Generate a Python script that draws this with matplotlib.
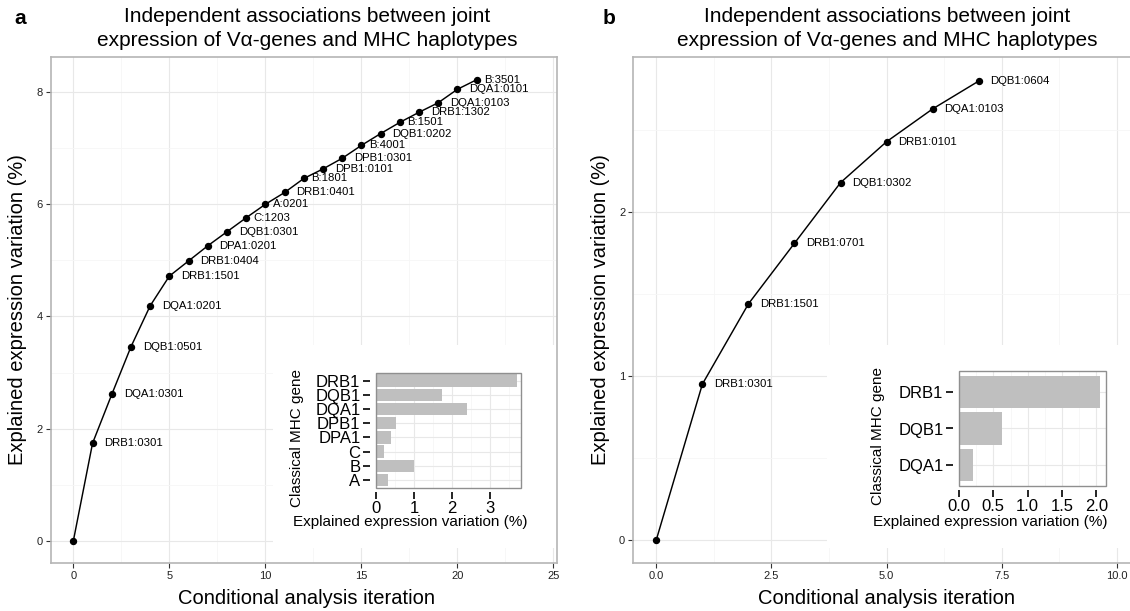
import matplotlib
matplotlib.use("Agg")
import matplotlib.pyplot as plt
from matplotlib.patches import Rectangle
from matplotlib.ticker import MultipleLocator, FixedLocator

plt.rcParams['font.family'] = ['Liberation Sans', 'DejaVu Sans']

# ---- data: panel a (conditional analysis, all classical MHC genes) ----
a_iteration = [0, 1, 2, 3, 4, 5, 6, 7, 8, 9, 10, 11, 12, 13, 14, 15, 16, 17, 18, 19, 20, 21]
a_explained = [0.00, 1.74, 2.61, 3.46, 4.19, 4.72, 4.99, 5.26, 5.51, 5.76, 6.00,
               6.21, 6.46, 6.63, 6.82, 7.05, 7.26, 7.46, 7.64, 7.81, 8.05, 8.22]
a_alleles = ["", "DRB1:0301", "DQA1:0301", "DQB1:0501", "DQA1:0201", "DRB1:1501",
             "DRB1:0404", "DPA1:0201", "DQB1:0301", "C:1203", "A:0201", "DRB1:0401",
             "B:1801", "DPB1:0101", "DPB1:0301", "B:4001", "DQB1:0202", "B:1501",
             "DRB1:1302", "DQA1:0103", "DQA1:0101", "B:3501"]
a_genes = ["DRB1", "DQB1", "DQA1", "DPB1", "DPA1", "C", "B", "A"]
a_gene_var = [3.71, 1.73, 2.41, 0.52, 0.39, 0.22, 1.00, 0.31]
a_xticks = [0, 5, 10, 15, 20, 25]
a_yticks = [0, 2, 4, 6, 8]
a_inset_ticks = [0, 1, 2, 3]

# ---- data: panel b (class II genes only) ----
b_iteration = [0, 1, 2, 3, 4, 5, 6, 7]
b_explained = [0.00, 0.95, 1.44, 1.81, 2.18, 2.43, 2.63, 2.80]
b_alleles = ["", "DRB1:0301", "DRB1:1501", "DRB1:0701", "DQB1:0302",
             "DRB1:0101", "DQA1:0103", "DQB1:0604"]
b_genes = ["DRB1", "DQB1", "DQA1"]
b_gene_var = [2.05, 0.62, 0.21]
b_xticks = [0.0, 2.5, 5.0, 7.5, 10.0]
b_yticks = [0, 1, 2]
b_inset_ticks = [0.0, 0.5, 1.0, 1.5, 2.0]

W, H = 1130, 611
fig = plt.figure(figsize=(W / 100, H / 100), dpi=100)


def box(l, t, r, b):
    return [l / W, 1 - b / H, (r - l) / W, (b - t) / H]


def ftext(x, y, s, **kw):
    return fig.text(x / W, 1 - y / H, s, **kw)


MAJOR = '#e8e8e8'
MINOR = '#f6f6f6'


def main_panel(rect, x, y, labels, xlim, ylim, xticks, yticks, xminor, yminor, xfmt):
    ax = fig.add_axes(rect)
    ax.set_xlim(*xlim)
    ax.set_ylim(*ylim)
    ax.xaxis.set_major_locator(FixedLocator(xticks))
    ax.yaxis.set_major_locator(FixedLocator(yticks))
    ax.xaxis.set_minor_locator(MultipleLocator(xminor))
    ax.yaxis.set_minor_locator(MultipleLocator(yminor))
    ax.set_xticklabels([xfmt(v) for v in xticks])
    ax.set_yticklabels([str(v) for v in yticks])
    ax.set_axisbelow(True)
    ax.grid(which='major', color=MAJOR, lw=0.8)
    ax.grid(which='minor', color=MINOR, lw=0.6)
    ax.tick_params(which='major', length=3.8, width=0.8, color='#333333',
                   labelsize=8, labelcolor='#222222', pad=2)
    ax.tick_params(which='minor', length=0)
    for sp in ax.spines.values():
        sp.set_color('#b5b5b5')
        sp.set_linewidth(1.2)
    ax.plot(x, y, color='black', lw=1.05, marker='o', ms=4.3, zorder=4, clip_on=False)
    anns = []
    for xi, yi, lab in zip(x, y, labels):
        if lab:
            anns.append(ax.annotate(lab, (xi, yi), xytext=(0, 0), textcoords='offset pixels',
                                    ha='left', va='center', fontsize=8.2, zorder=5))
    return ax, anns


def inset_panel(rect, genes, vals, xlim, ylim, ticks, minor, xfmt):
    ax = fig.add_axes(rect)
    pos = list(range(len(genes)))[::-1]
    ax.set_xlim(*xlim)
    ax.set_ylim(*ylim)
    ax.set_axisbelow(True)
    ax.xaxis.set_major_locator(FixedLocator(ticks))
    ax.xaxis.set_minor_locator(MultipleLocator(minor))
    ax.set_xticklabels([xfmt(v) for v in ticks])
    ax.set_yticks(pos)
    ax.set_yticklabels(genes)
    ax.grid(which='major', color=MAJOR, lw=0.8)
    ax.grid(which='minor', axis='x', color=MINOR, lw=0.6)
    ax.barh(pos, vals, height=0.88, color='#bfbfbf', edgecolor='none', zorder=2)
    ax.spines['left'].set_position(('outward', 4.5))
    ax.spines['bottom'].set_position(('outward', 3))
    for sp in ax.spines.values():
        sp.set_visible(False)
    ax.add_patch(Rectangle((0, 0), 1, 1, transform=ax.transAxes, fill=False,
                           edgecolor='#8f8f8f', lw=1.0, clip_on=False, zorder=5))
    ax.tick_params(which='major', length=5.2, width=1.2, color='black',
                   labelsize=12, labelcolor='black', pad=1.5)
    ax.tick_params(which='minor', length=0)
    return ax


# ---- panel a ----
axa, anns_a = main_panel(box(50.7, 57.3, 557.3, 562.7), a_iteration, a_explained, a_alleles,
                         (-1.18, 25.2), (-0.39, 8.62), a_xticks, a_yticks, 2.5, 1,
                         lambda v: str(v))
axa.add_patch(Rectangle((273 / W, 1 - 548 / H), (557 - 273) / W, (548 - 345) / H,
                        transform=fig.transFigure, facecolor='white', edgecolor='none',
                        zorder=0.8))
inset_panel(box(376, 373, 520.7, 487.7), a_genes, a_gene_var, (0, 3.82), (-0.54, 7.54),
            a_inset_ticks, 0.5, lambda v: str(v))

# ---- panel b ----
axb, anns_b = main_panel(box(633.3, 57.3, 1139.9, 562.7), b_iteration, b_explained, b_alleles,
                         (-0.5, 10.5), (-0.14, 2.945), b_xticks, b_yticks, 1.25, 0.5,
                         lambda v: f"{v:.1f}")
axb.add_patch(Rectangle((827 / W, 1 - 548 / H), (1140 - 827) / W, (548 - 345) / H,
                        transform=fig.transFigure, facecolor='white', edgecolor='none',
                        zorder=0.8))
inset_panel(box(959, 371, 1106, 486), b_genes, b_gene_var, (0, 2.14), (-0.58, 2.58),
            b_inset_ticks, 0.25, lambda v: f"{v:.1f}")

# ---- text ----
for cx in (307, 887):
    ftext(cx, 16, "Independent associations between joint", ha='center', va='center',
          fontsize=15)
    ftext(cx, 40, "expression of V\u03b1-genes and MHC haplotypes", ha='center', va='center',
          fontsize=15)
ftext(20, 18, 'a', ha='center', va='center', fontsize=15, fontweight='bold')
ftext(609, 18, 'b', ha='center', va='center', fontsize=15, fontweight='bold')

for cx, yl in ((306, 18), (887, 601)):
    ftext(cx, 598, "Conditional analysis iteration", ha='center', va='center', fontsize=14.5)
    ftext(yl, 310, "Explained expression variation (%)", ha='center', va='center',
          rotation=90, fontsize=14.5)

for (xc, yc), (yx, yy) in (((410, 522), (297, 438)), ((990, 522), (878, 436))):
    ftext(xc, yc, "Explained expression variation (%)", ha='center', va='center', fontsize=11)
    ftext(yx, yy, "Classical MHC gene", ha='center', va='center', rotation=90, fontsize=11)

# shift each allele label right by a fifth of its own width
fig.canvas.draw()
renderer = fig.canvas.get_renderer()
for t in anns_a + anns_b:
    w = t.get_window_extent(renderer).width
    t.xyann = (0.2 * w, 0)

fig.savefig("out.png", dpi=100)
